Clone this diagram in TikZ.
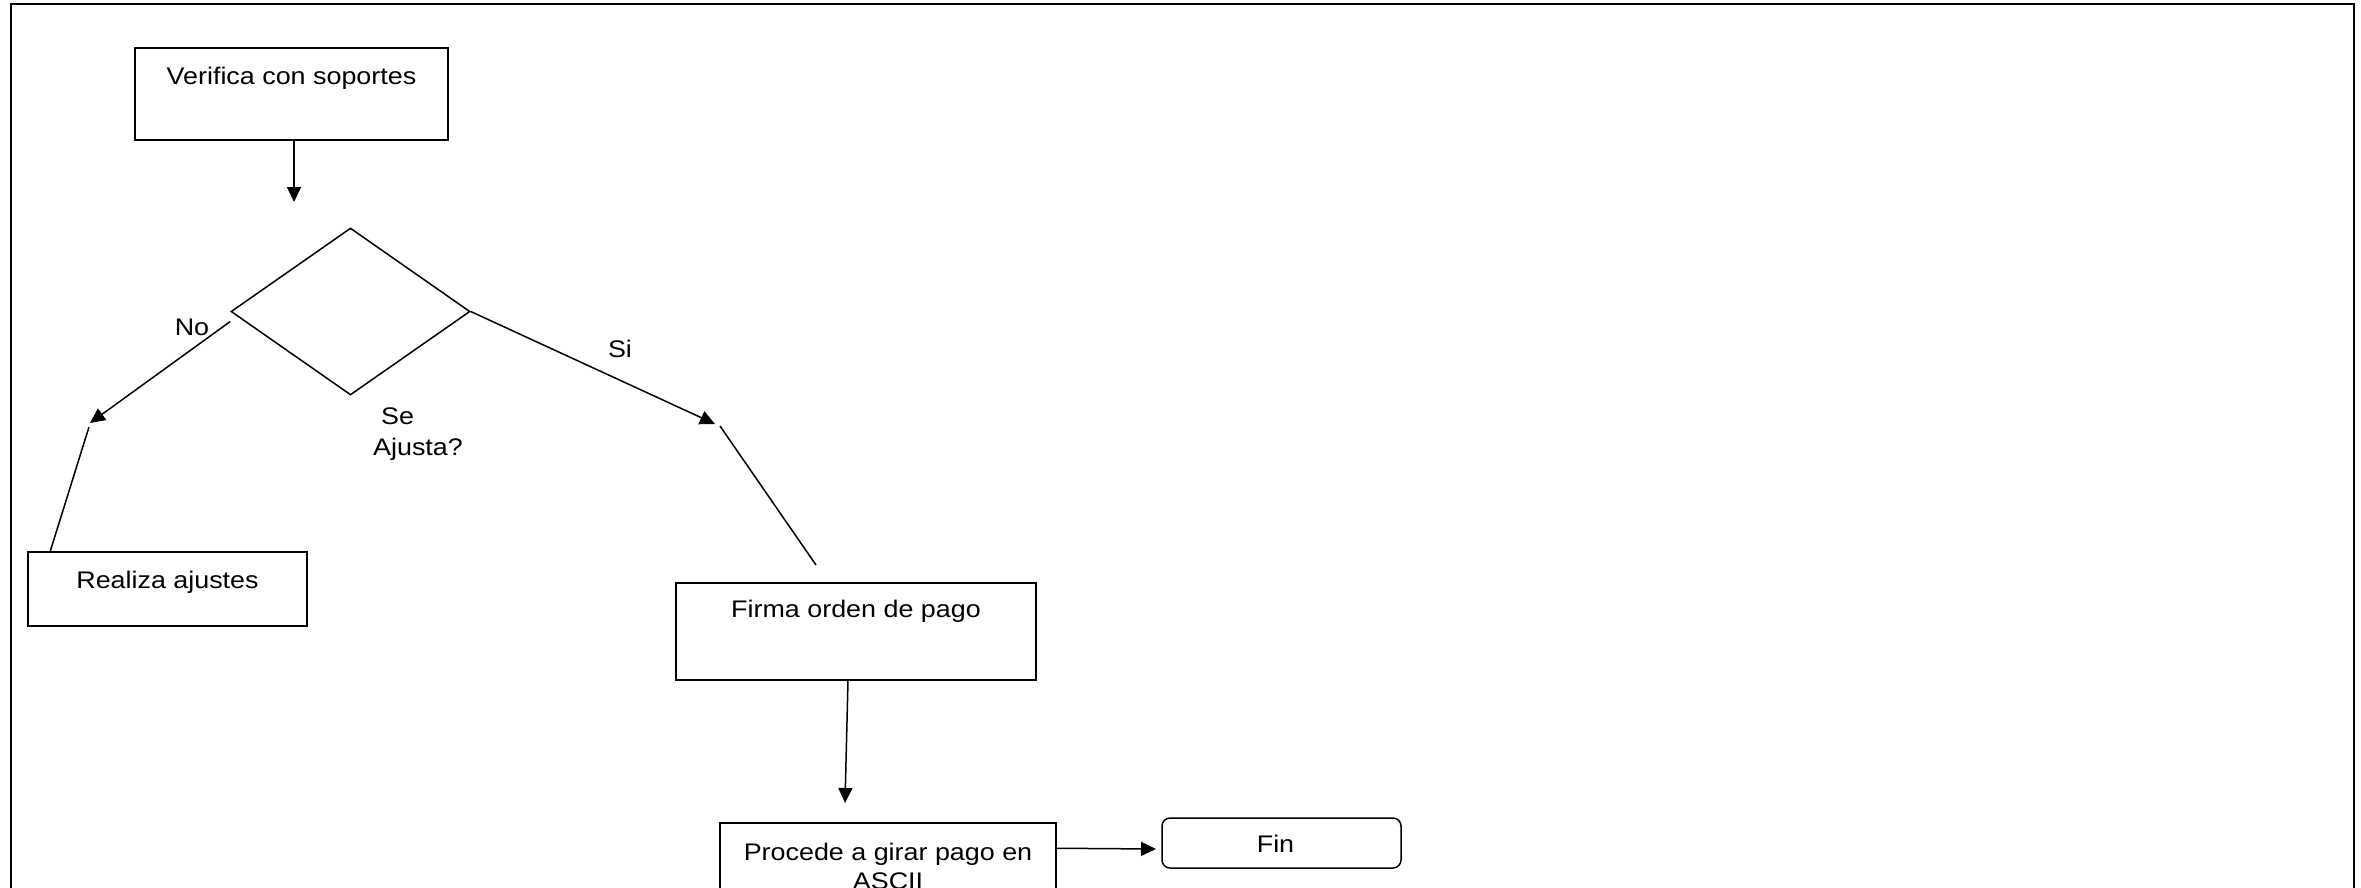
\documentclass[tikz,border=0pt]{standalone}
\usepackage{fontspec}
\setmainfont{Liberation Sans}[FakeStretch=1.12]
\usetikzlibrary{arrows.meta,shapes.geometric}

\begin{document}
\begin{tikzpicture}[x=1pt,y=-1pt,
     every node/.style={font=\fontsize{24}{29}\selectfont},
     caja/.style={draw,line width=1.5pt,inner sep=0pt,anchor=base},
     texto/.style={inner sep=0pt},
     linea/.style={line width=1.5pt},
     flecha/.style={line width=1.5pt,-{Triangle[length=15pt,width=14pt]}}]
     \useasboundingbox (0,0) rectangle (2361,887);
     \clip (0,0) rectangle (2361,887);
     \draw[line width=2.2pt] (11,4) rectangle (2354,950);
     % cajas
     \node[caja,minimum width=313pt,text height=36pt,text depth=56pt] (verifica) at (291.5,84) {Verifica con soportes};
     \node[draw,line width=1.5pt,diamond,minimum width=239pt,minimum height=167pt,inner sep=0pt] (ajusta) at (350.5,311.5) {};
     \node[caja,minimum width=279pt,text height=36pt,text depth=38pt] (realiza) at (167.5,588) {Realiza ajustes};
     \node[caja,minimum width=360pt,text height=34pt,text depth=63pt] (firma) at (856,617) {Firma orden de pago};
     \node[draw,line width=1.5pt,inner sep=0pt,align=center,minimum width=336pt,minimum height=86pt] (procede) at (888,866) {Procede a girar pago en\\ASCII};
     \node[caja,rounded corners=8pt,minimum width=239pt,text height=34pt,text depth=16pt] (fin) at (1281.5,852) {Fin\hspace*{12pt}};
     % textos
     \node[texto,anchor=north west,align=left,font=\fontsize{24}{31}\selectfont] (pregunta) at (373,408) {\hspace*{8pt}Se\\Ajusta?};
     \node[texto] (no) at (192,327) {No};
     \node[texto] (si) at (620,349) {Si};
     % puntos libres
     \coordinate (verificaFin) at (294,202);
     \coordinate (noPunta) at (90,423);
     \coordinate (noQuiebre) at (89,427);
     \coordinate (siPunta) at (715,424);
     \coordinate (siQuiebre) at (720,426);
     \coordinate (siFin) at (816,565);
     \coordinate (firmaFin) at (845,803);
     \coordinate (finEntrada) at (1156,849);
     % conectores
     \draw[flecha] ([xshift=2.5pt]verifica.south) -- (verificaFin);
     \draw[flecha] ([yshift=-10pt]ajusta.west) -- (noPunta);
     \draw[linea] (noQuiebre) -- ([xshift=23pt]realiza.north west);
     \draw[flecha] (ajusta.east) -- (siPunta);
     \draw[linea] (siQuiebre) -- (siFin);
     \draw[flecha] ([xshift=-8pt]firma.south) -- (firmaFin);
     \draw[flecha] ([yshift=-26pt]procede.north east) -- (finEntrada);
\end{tikzpicture}
\end{document}
